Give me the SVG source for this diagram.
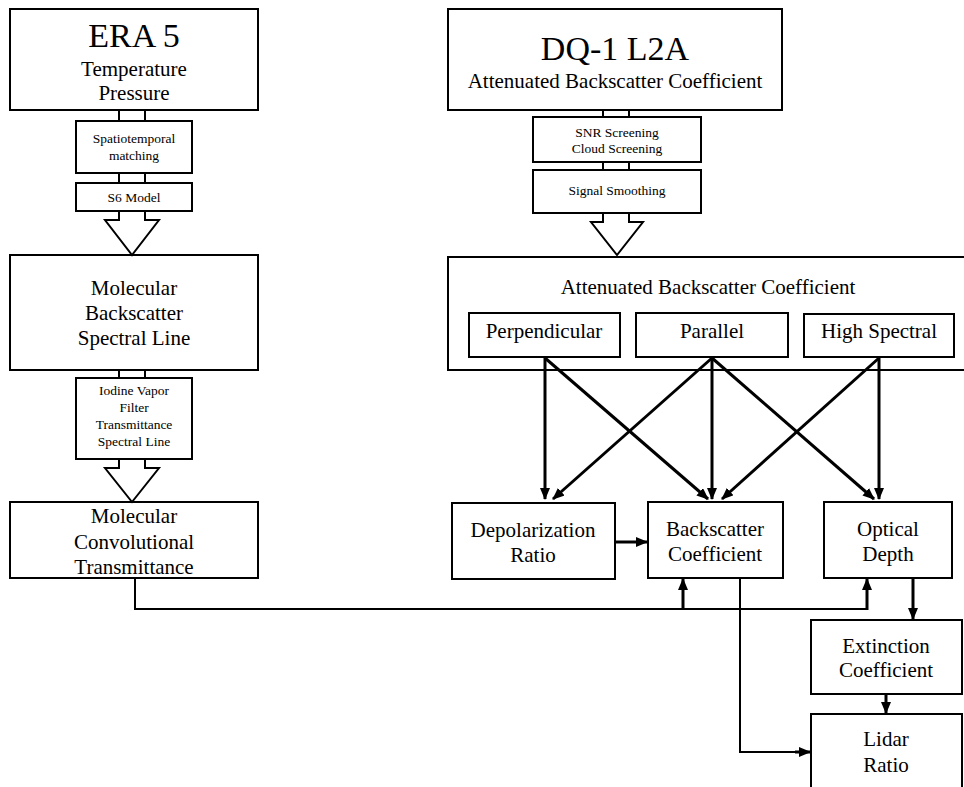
<svg xmlns="http://www.w3.org/2000/svg" width="964" height="787" viewBox="0 0 964 787">
<style>
.box{fill:#fff;stroke:#000;stroke-width:2}
.t{font-family:"Liberation Serif","Times New Roman",serif;fill:#000;text-anchor:middle}
.big{font-size:34px}
.m{font-size:21px}
.s{font-size:13.5px}
.stem{stroke:#000;stroke-width:2;fill:none}
.blk{fill:#fff;stroke:#000;stroke-width:2;stroke-linejoin:miter}
.arr{stroke:#000;stroke-width:3;fill:none;marker-end:url(#ah)}
.thin{stroke:#000;stroke-width:2;fill:none}
</style>
<defs>
<marker id="ah" markerUnits="userSpaceOnUse" markerWidth="12" markerHeight="10" refX="11" refY="5" orient="auto">
<path d="M0,0 L12,5 L0,10 z" fill="#000"/>
</marker>
</defs>
<rect width="964" height="787" fill="#fff"/>

<g id="era5">
<rect class="box" x="10" y="9" width="248" height="101"/>
<text class="t big" x="134" y="47">ERA 5</text>
<text class="t m" x="134" y="76">Temperature</text>
<text class="t m" x="134" y="100">Pressure</text>
</g>
<g id="spatiotemporal">
<rect class="box" x="76" y="121" width="116" height="52"/>
<text class="t s" x="134" y="143">Spatiotemporal</text>
<text class="t s" x="134" y="160">matching</text>
</g>
<g id="s6model">
<rect class="box" x="76" y="183" width="116" height="28"/>
<text class="t s" x="134" y="202">S6 Model</text>
</g>
<g id="molbackscatter">
<rect class="box" x="10" y="255" width="248" height="115"/>
<text class="t m" x="134" y="295">Molecular</text>
<text class="t m" x="134" y="320">Backscatter</text>
<text class="t m" x="134" y="345">Spectral Line</text>
</g>
<g id="iodine">
<rect class="box" x="76" y="378" width="116" height="81"/>
<text class="t s" x="134" y="395">Iodine Vapor</text>
<text class="t s" x="134" y="412">Filter</text>
<text class="t s" x="134" y="429">Transmittance</text>
<text class="t s" x="134" y="446">Spectral Line</text>
</g>
<g id="molconv">
<rect class="box" x="10" y="502" width="248" height="76"/>
<text class="t m" x="134" y="523">Molecular</text>
<text class="t m" x="134" y="549">Convolutional</text>
<text class="t m" x="134" y="574">Transmittance</text>
</g>

<g id="dq1">
<rect class="box" x="448" y="9" width="334" height="101"/>
<text class="t big" x="615" y="60">DQ-1 L2A</text>
<text class="t m" x="615" y="88">Attenuated Backscatter Coefficient</text>
</g>
<g id="screening">
<rect class="box" x="533" y="117" width="168" height="45"/>
<text class="t s" x="617" y="137">SNR Screening</text>
<text class="t s" x="617" y="153">Cloud Screening</text>
</g>
<g id="smoothing">
<rect class="box" x="533" y="170" width="168" height="43"/>
<text class="t s" x="617" y="195">Signal Smoothing</text>
</g>
<g id="attbackscatter">
<rect class="box" x="448" y="257" width="522" height="113"/>
<text class="t m" x="708" y="294">Attenuated Backscatter Coefficient</text>
</g>
<g id="perpendicular">
<rect class="box" x="469" y="313" width="151" height="44"/>
<text class="t m" x="544" y="338">Perpendicular</text>
</g>
<g id="parallel">
<rect class="box" x="636" y="313" width="152" height="44"/>
<text class="t m" x="712" y="338">Parallel</text>
</g>
<g id="highspectral">
<rect class="box" x="804" y="314" width="150" height="43"/>
<text class="t m" x="879" y="338">High Spectral</text>
</g>
<g id="depolarization">
<rect class="box" x="452" y="503" width="163" height="76"/>
<text class="t m" x="533" y="537">Depolarization</text>
<text class="t m" x="533" y="562">Ratio</text>
</g>
<g id="backscattercoef">
<rect class="box" x="648" y="502" width="135" height="76"/>
<text class="t m" x="715" y="536">Backscatter</text>
<text class="t m" x="715" y="561">Coefficient</text>
</g>
<g id="opticaldepth">
<rect class="box" x="824" y="502" width="128" height="76"/>
<text class="t m" x="888" y="536">Optical</text>
<text class="t m" x="888" y="561">Depth</text>
</g>
<g id="extinction">
<rect class="box" x="811" y="620" width="151" height="74"/>
<text class="t m" x="886" y="653">Extinction</text>
<text class="t m" x="886" y="677">Coefficient</text>
</g>
<g id="lidar">
<rect class="box" x="811" y="714" width="151" height="90"/>
<text class="t m" x="886" y="746">Lidar</text>
<text class="t m" x="886" y="772">Ratio</text>
</g>

<g id="connectors">
<path class="stem" d="M119,110 V121 M145,110 V121 M119,173 V183 M145,173 V183"/>
<polygon class="blk" points="119,211 119,220 105,220 132,255 159,220 145,220 145,211"/>
<path class="stem" d="M119,370 V378 M145,370 V378"/>
<polygon class="blk" points="119,459 119,468 105,468 132,502 159,468 145,468 145,459"/>
<path class="stem" d="M603,110 V117 M629,110 V117 M603,162 V170 M629,162 V170"/>
<polygon class="blk" points="603,213 603,222 591,222 617,255 643,222 629,222 629,213"/>

<line class="arr" x1="545" y1="358" x2="545" y2="499"/>
<line class="arr" x1="545" y1="358" x2="708" y2="499"/>
<line class="arr" x1="712" y1="358" x2="553" y2="499"/>
<line class="arr" x1="712" y1="358" x2="712" y2="499"/>
<line class="arr" x1="712" y1="358" x2="874" y2="499"/>
<line class="arr" x1="879" y1="358" x2="722" y2="499"/>
<line class="arr" x1="879" y1="358" x2="879" y2="499"/>

<line class="arr" x1="615" y1="542" x2="647" y2="542"/>

<path class="thin" d="M135,578 V609 H867"/>
<line class="arr" x1="683" y1="609" x2="683" y2="579"/>
<line class="arr" x1="867" y1="610" x2="867" y2="579"/>

<path class="thin" d="M740,578 V752 H800"/>
<line class="arr" x1="795" y1="752" x2="810" y2="752"/>

<line class="arr" x1="913" y1="578" x2="913" y2="619"/>
<line class="arr" x1="886" y1="694" x2="886" y2="713"/>
</g>
</svg>
